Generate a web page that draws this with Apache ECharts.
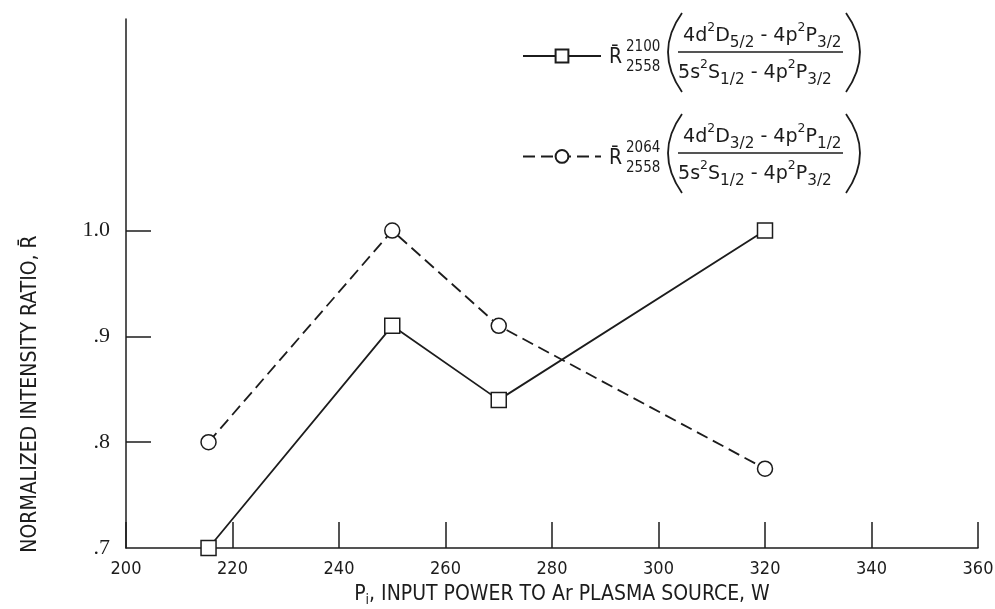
<!DOCTYPE html>
<html>
<head>
  <meta charset="utf-8">
  <title>Normalized intensity ratio vs input power</title>
  <script src="https://fastly.jsdelivr.net/npm/echarts@6/dist/echarts.min.js"></script>
</head>
<body style="margin:0">
<div id="chart-container" style="position: relative; width: 995px; height: 609px; overflow: hidden;"></div>
<script type="text/javascript">
  // values
  var powerW = [215.5, 250, 270, 320];
  var ratio2100 = [0.70, 0.91, 0.84, 1.00];
  var ratio2064 = [0.80, 1.00, 0.91, 0.775];
  var xTicks = [200, 220, 240, 260, 280, 300, 320, 340, 360];
  var yLabelValues = [0.7, 0.8, 0.9, 1.0];
  var yTickValues = [0.8, 0.9, 1.0];

  var ink = '#1c1c1c';
  var narrow = "'Liberation Sans Narrow', 'DejaVu Sans Condensed', 'Liberation Sans', sans-serif";

  var dom = document.getElementById('chart-container');
  var myChart = echarts.init(dom, null, { renderer: 'canvas' });

  function pairs(xs, ys) {
    return xs.map(function (x, i) { return [x, ys[i]]; });
  }

  // the legend formula: R-bar with the two wavelengths and the transition fraction
  var richParts = {
    m: { fontSize: 20, fontFamily: narrow, color: ink, lineHeight: 30 },
    p: { fontSize: 13, fontFamily: narrow, color: ink, verticalAlign: 'top', lineHeight: 13 },
    b: { fontSize: 16, fontFamily: narrow, color: ink, verticalAlign: 'bottom', lineHeight: 16 }
  };
  function formula(by, top, bottom, upper) {
    return {
      type: 'group',
      children: [
        { type: 'text', x: 609, y: by + 6, style: { text: 'R\u0304', font: '21px ' + narrow, fill: ink, verticalAlign: 'middle' } },
        { type: 'text', x: 626, y: by - 5, style: { text: upper, font: '15px ' + narrow, fill: ink, verticalAlign: 'middle' } },
        { type: 'text', x: 626, y: by + 15, style: { text: '2558', font: '15px ' + narrow, fill: ink, verticalAlign: 'middle' } },
        { type: 'bezierCurve', shape: { x1: 682, y1: by - 39, x2: 682, y2: by + 40, cpx1: 654, cpy1: by }, style: { stroke: ink, lineWidth: 1.8, fill: null } },
        { type: 'bezierCurve', shape: { x1: 846, y1: by - 39, x2: 846, y2: by + 40, cpx1: 874, cpy1: by }, style: { stroke: ink, lineWidth: 1.8, fill: null } },
        { type: 'text', x: 683, y: by - 31, scaleX: 1.06, style: { text: top, rich: richParts, verticalAlign: 'top', fill: ink } },
        { type: 'line', shape: { x1: 678, y1: by, x2: 843, y2: by }, style: { stroke: ink, lineWidth: 1.5 } },
        { type: 'text', x: 678, y: by + 6, scaleX: 1.06, style: { text: bottom, rich: richParts, verticalAlign: 'top', fill: ink } }
      ]
    };
  }

  var option = {
    backgroundColor: '#fff',
    animation: false,
    grid: { left: 126, right: 17, top: 19, bottom: 61, outerBoundsMode: 'none' },
    legend: {
      orient: 'vertical',
      left: 517,
      top: 43,
      itemWidth: 78,
      itemHeight: 16,
      itemGap: 85,
      formatter: function () { return ''; },
      data: ['R2100', 'R2064']
    },
    xAxis: {
      type: 'value',
      min: 200,
      max: 360,
      interval: 20,
      name: '{n|P}{s|i}{n|, INPUT POWER TO Ar PLASMA SOURCE, W}',
      nameLocation: 'middle',
      nameGap: 35,
      nameTextStyle: {
        padding: [0, 0, 0, 20],
        rich: {
          n: { fontSize: 21, fontFamily: narrow, color: ink },
          s: { fontSize: 14, fontFamily: narrow, color: ink, verticalAlign: 'bottom', padding: [10, 0, 0, 0] }
        }
      },
      splitLine: { show: false },
      axisLine: { lineStyle: { color: ink, width: 1.5 } },
      axisTick: { inside: true, length: 26, lineStyle: { color: ink, width: 1.5 } },
      axisLabel: { margin: 12, fontSize: 18, fontFamily: narrow, color: ink }
    },
    yAxis: {
      type: 'value',
      min: 0.7,
      max: 1.2,
      interval: 0.1,
      splitLine: { show: false },
      axisLine: { show: true, lineStyle: { color: ink, width: 1.5 } },
      axisTick: { show: true, inside: true, length: 25, customValues: yTickValues, lineStyle: { color: ink, width: 1.5 } },
      axisLabel: {
        customValues: yLabelValues,
        margin: 16,
        fontSize: 22,
        fontFamily: "'Liberation Serif', serif",
        color: ink,
        formatter: function (v) {
          var s = v.toFixed(1);
          return s.charAt(0) === '0' ? s.slice(1) : s;
        }
      }
    },
    graphic: [
      {
        type: 'text',
        x: 31,
        y: 394,
        rotation: Math.PI / 2,
        style: { text: 'NORMALIZED INTENSITY RATIO, R\u0304', font: '21px ' + narrow, fill: ink, align: 'center', verticalAlign: 'middle' }
      },
      formula(52, '{m|4d}{p|2}{m|D}{b|5/2}{m| - 4p}{p|2}{m|P}{b|3/2}', '{m|5s}{p|2}{m|S}{b|1/2}{m| - 4p}{p|2}{m|P}{b|3/2}', '2100'),
      formula(153, '{m|4d}{p|2}{m|D}{b|3/2}{m| - 4p}{p|2}{m|P}{b|1/2}', '{m|5s}{p|2}{m|S}{b|1/2}{m| - 4p}{p|2}{m|P}{b|3/2}', '2064')
    ],
    series: [
      {
        name: 'R2100',
        type: 'line',
        data: pairs(powerW, ratio2100),
        symbol: 'rect',
        symbolSize: 15,
        lineStyle: { color: ink, width: 1.8, type: 'solid' },
        itemStyle: { color: '#fff', borderColor: ink, borderWidth: 1.5 },
        z: 3
      },
      {
        name: 'R2064',
        type: 'line',
        data: pairs(powerW, ratio2064),
        symbol: 'circle',
        symbolSize: 15,
        lineStyle: { color: ink, width: 1.8, type: [12, 6] },
        itemStyle: { color: '#fff', borderColor: ink, borderWidth: 1.5 },
        z: 3
      }
    ]
  };

  myChart.setOption(option);
  window.addEventListener('resize', myChart.resize);
</script>
</body>
</html>
